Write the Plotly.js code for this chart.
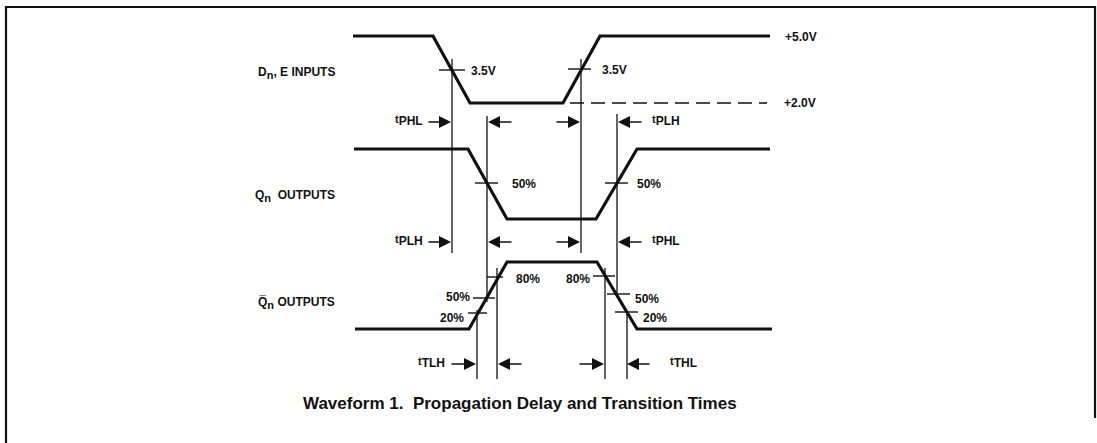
<!DOCTYPE html>
<html><head><meta charset="utf-8">
<script src="https://cdn.plot.ly/plotly-3.0.1.min.js"></script>
<style>html,body{margin:0;padding:0;background:#fff}#chart{width:1097px;height:443px}</style>
</head><body><div id="chart"></div>
<script>
// ---- Waveform breakpoints (time, level) in diagram units ----
const inputT = [353, 433, 470, 563, 600, 770];
const inputLevel = [36, 36, 103, 103, 36, 36];
const qT = [354, 468, 507, 596, 637, 770];
const qLevel = [149, 149, 219, 219, 149, 149];
const qBarT = [355, 469, 507, 597, 637, 772];
const qBarLevel = [329, 329, 262, 262, 329, 329];
// +2.0V reference (dashed)
const refT = [570, 767];
const refLevel = [103, 103];
// measurement-point ticks
const tickStart = [439, 568, 475, 605, 487, 473, 468, 593, 607, 615];
const tickEnd   = [465, 591, 498, 628, 503, 495, 487, 615, 630, 638];
const tickLevel = [70, 69, 183, 183, 277, 298, 313, 276, 294, 312];
// timing reference verticals
const markT = [452, 487, 581, 617, 477, 497, 605, 627];
const markTop = [59, 116, 59, 114, 310, 268, 268, 311];
const markBottom = [253, 302, 253, 293, 379, 379, 379, 379];
// timing arrows
const arrowRow  = [122,122,122,122, 242,242,242,242, 364,364,364,364];
const arrowTail = [427,513,555,643, 427,513,555,643, 450,523,578,651];
const arrowHead = [451,488,580,618, 451,488,580,618, 476,498,604,627];
// labels
const signalNames = ['D<sub><span style="font-size:11px">n</span></sub>, E INPUTS',
                     'Q<sub><span style="font-size:11px">n</span></sub>\u00a0\u00a0OUTPUTS',
                     'Q\u0305<sub><span style="font-size:11px">n</span></sub> OUTPUTS'];
const signalY = [73, 196, 303];
const levelText = ['+5.0V', '+2.0V'];
const levelX = [783, 782];
const levelY = [37, 103];
const thText = ['3.5V','3.5V','50%','50%','80%','50%','20%','80%','50%','20%'];
const thX = [469, 600, 510, 635, 514, 472, 466, 592, 633, 641];
const thY = [71, 70, 184, 184, 279, 297, 318, 279, 299, 318];
const thAnchor = ['left','left','left','left','left','right','right','right','left','left'];
const timText = ['PHL','PLH','PLH','PHL','TLH','THL'];
const timX = [425, 650, 425, 650, 447, 668];
const timY = [122, 122, 242, 242, 364, 364];
const timAnchor = ['right','left','right','left','right','left'];
const caption = 'Waveform 1.\u00a0 Propagation Delay and Transition Times';
const frameX = [6, 6, 1095, 1095];
const frameY = [443, 7, 7, 418];

const FONT = 'Arial, "Liberation Sans", sans-serif';
const traces = [];
function line(x, y, w, dash) {
  traces.push({type:'scatter', mode:'lines', x:x, y:y, hoverinfo:'skip', showlegend:false,
    line:{color:'#111', width:w, dash:dash||'solid'}});
}
line(inputT, inputLevel, 3.2);
line(qT, qLevel, 3.2);
line(qBarT, qBarLevel, 3.2);
line(refT, refLevel, 1.6, '14px,7px');
// ticks
{ const x=[], y=[];
  tickStart.forEach((s,i)=>{x.push(s, tickEnd[i], null); y.push(tickLevel[i], tickLevel[i], null);});
  line(x, y, 1.4); }
// verticals
{ const x=[], y=[];
  markT.forEach((t,i)=>{x.push(t, t, null); y.push(markTop[i], markBottom[i], null);});
  line(x, y, 1.3); }
line(frameX, frameY, 2.2);

const ann = [];
function txt(x, y, text, anchor, size) {
  ann.push({x:x, y:y, xref:'x', yref:'y', text:text, showarrow:false, xanchor:anchor, yanchor:'middle',
    font:{family:FONT, size:size||12, color:'#111', weight:'bold'}});
}
signalNames.forEach((s,i)=>txt(337, signalY[i], '<b>'+s+'</b>', 'right', 12));
levelText.forEach((s,i)=>txt(levelX[i], levelY[i], '<b>'+s+'</b>', 'left', 12));
thText.forEach((s,i)=>txt(thX[i], thY[i], '<b>'+s+'</b>', thAnchor[i], 12));
timText.forEach((s,i)=>txt(timX[i], timY[i]-2, '<b>t<sub><span style="font-size:12px">'+s+'</span></sub></b>', timAnchor[i], 11));
txt(520, 403, '<b>'+caption+'</b>', 'center', 17);
arrowRow.forEach((r,i)=>{
  ann.push({x:arrowHead[i], y:r, ax:arrowTail[i], ay:r, xref:'x', yref:'y', axref:'x', ayref:'y',
    text:'', showarrow:true, arrowhead:2, arrowsize:1.6, arrowwidth:1.5, arrowcolor:'#111', standoff:0, startstandoff:0});
});

const layout = {
  width:1097, height:443, margin:{l:0,r:0,t:0,b:0}, paper_bgcolor:'#fff', plot_bgcolor:'#fff',
  xaxis:{range:[0,1097], visible:false, fixedrange:true},
  yaxis:{range:[443,0], visible:false, fixedrange:true},
  annotations: ann, showlegend:false
};
Plotly.newPlot('chart', traces, layout, {staticPlot:true, displayModeBar:false});
</script></body></html>
